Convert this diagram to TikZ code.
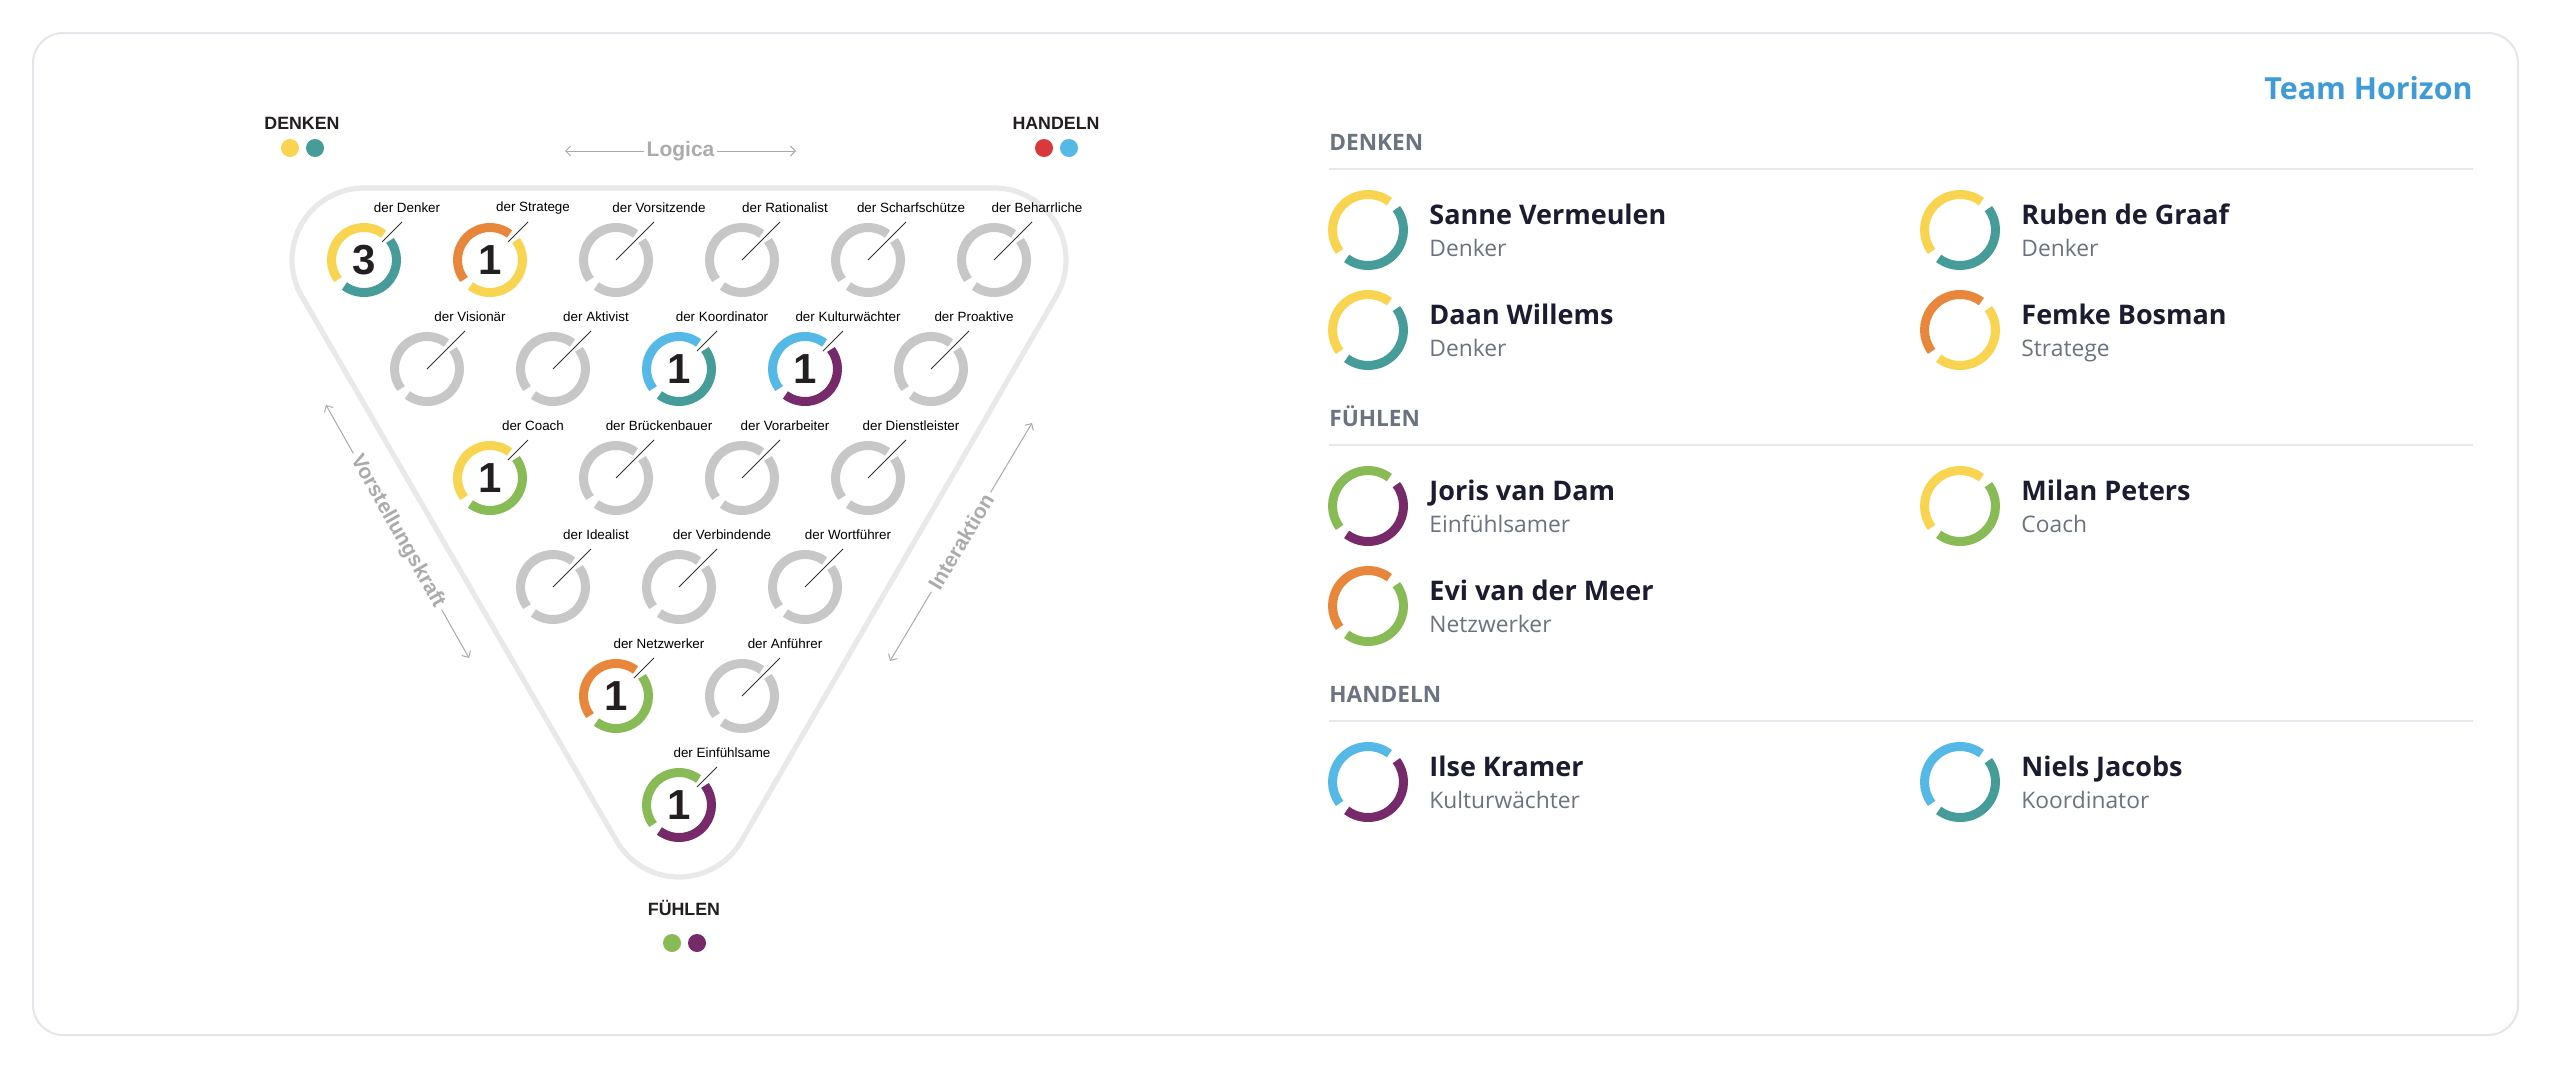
\documentclass[tikz,border=0pt]{standalone}
\usepackage{fontspec}
\setmainfont{Liberation Sans}
\newfontfamily\uifont{Open Sans}
\usetikzlibrary{calc,arrows.meta}

\definecolor{cyel}{HTML}{F8D451}
\definecolor{cteal}{HTML}{459C98}
\definecolor{corange}{HTML}{E8873C}
\definecolor{cblue}{HTML}{55B9E7}
\definecolor{cpurple}{HTML}{762A6A}
\definecolor{cgreen}{HTML}{88BB56}
\definecolor{cred}{HTML}{D9393A}
\definecolor{cring}{HTML}{C7C7C7}
\definecolor{ctri}{HTML}{E9E9E9}
\definecolor{caxis}{HTML}{AAAAAA}
\definecolor{caxislbl}{HTML}{ABABAB}
\definecolor{cframe}{HTML}{E3E7EB}
\definecolor{cnum}{HTML}{231F20}
\definecolor{cptr}{HTML}{333333}
\definecolor{cnavy}{HTML}{1C1C30}
\definecolor{cslate}{HTML}{6B7280}
\definecolor{csep}{HTML}{E5E8EC}
\definecolor{cteam}{HTML}{3F9BD7}

\tikzset{
  outerframe/.style={draw=cframe, line width=1pt, rounded corners=15pt},
  trioutline/.style={draw=ctri, line width=2.6pt},
  ringline/.style={line width=4.5pt},
  lbl/.style={font=\fontsize{6.7}{8}\selectfont, inner sep=0pt},
  num/.style={font=\fontsize{21}{21}\selectfont\bfseries, text=cnum, inner sep=0pt},
  ptr/.style={draw=cptr, line width=0.5pt},
  cornerlbl/.style={font=\fontsize{8.9}{10}\selectfont\bfseries, text=cnum, inner sep=0pt},
  dot/.style={circle, inner sep=0pt, minimum size=9pt},
  axisarrow/.style={draw=caxis, line width=0.5pt,
    {Straight Barb[length=2.5pt,width=5pt]}-{Straight Barb[length=2.5pt,width=5pt]}},
  axislbl/.style={font=\fontsize{10.5}{12}\selectfont\bfseries, text=caxislbl, fill=white, inner sep=2pt},
  sechead/.style={font=\uifont\fontsize{11.3}{13}\selectfont\bfseries, text=cslate, inner sep=0pt, anchor=base west},
  sepline/.style={draw=csep, line width=1pt},
  person/.style={font=\uifont\fontsize{13.5}{16}\selectfont\bfseries, text=cnavy, inner sep=0pt, anchor=base west},
  role/.style={font=\uifont\fontsize{11.4}{13}\selectfont, text=cslate, inner sep=0pt, anchor=base west}
}

% grey circle of the triangle: name, x, y, label
\newcommand{\emptyrole}[4]{%
  \coordinate (#1) at (#2,#3);
  \coordinate (#1-p) at ($(#1)+(38,-38)$);
  \node[lbl] (#1-l) at ($(#1)+(43,-52)$) {#4};
  \draw[ringline, cring] (#1) ++(307:32.5) arc[start angle=307, end angle=143, radius=32.5];
  \draw[ringline, cring] (#1) ++(127:32.5) arc[start angle=127, end angle=-37, radius=32.5];
  \draw[ptr] (#1-p) -- (#1);
}
% coloured circle with count: name, x, y, label, count, colour one, colour two
\newcommand{\fullrole}[7]{%
  \coordinate (#1) at (#2,#3);
  \coordinate (#1-p) at ($(#1)+(38,-38)$);
  \coordinate (#1-q) at ($(#1)+(18,-18)$);
  \node[lbl] (#1-l) at ($(#1)+(43,-52)$) {#4};
  \node[num] (#1-n) at (#1) {#5};
  \draw[ringline, #6] (#1) ++(307:32.5) arc[start angle=307, end angle=143, radius=32.5];
  \draw[ringline, #7] (#1) ++(127:32.5) arc[start angle=127, end angle=-37, radius=32.5];
  \draw[ptr] (#1-p) -- (#1-q);
}
% team member: name, x, y, person, role, colour one, colour two
\newcommand{\member}[7]{%
  \coordinate (#1) at (#2,#3);
  \draw[ringline, #6] (#1) ++(307:35.5) arc[start angle=307, end angle=143, radius=35.5];
  \draw[ringline, #7] (#1) ++(127:35.5) arc[start angle=127, end angle=-37, radius=35.5];
  \node[person] (#1-n) at ($(#1)+(61,-6)$) {#4};
  \node[role] (#1-r) at ($(#1)+(61,26)$) {#5};
}

\begin{document}
\begin{tikzpicture}[x=0.5pt, y=-0.5pt]
  \useasboundingbox (0,0) rectangle (2552,1066);
  \fill[white] (0,0) rectangle (2552,1066);
  \draw[outerframe] (33,33) rectangle (2518,1035);

  % triangle outline
  \draw[trioutline] (364,188) -- (994,188)
    arc[start angle=270, end angle=390, radius=72] -- (741.35,841)
    arc[start angle=30, end angle=150, radius=72] -- (301.65,296)
    arc[start angle=150, end angle=270, radius=72] -- cycle;

  % corners
  \node[cornerlbl] (denken) at (302,123) {DENKEN};
  \node[dot, fill=cyel] (denken-a) at (290,148) {};
  \node[dot, fill=cteal] (denken-b) at (315,148) {};
  \node[cornerlbl] (handeln) at (1056,123) {HANDELN};
  \node[dot, fill=cred] (handeln-a) at (1044,148) {};
  \node[dot, fill=cblue] (handeln-b) at (1069,148) {};
  \node[cornerlbl] (fuehlen) at (684,908) {FÜHLEN};
  \node[dot, fill=cgreen] (fuehlen-a) at (672,943) {};
  \node[dot, fill=cpurple] (fuehlen-b) at (697,943) {};

  % axes
  \coordinate (lg1) at (565,151);
  \coordinate (lg2) at (796,151);
  \draw[axisarrow] (lg1) -- (lg2) node[axislbl, midway, inner xsep=1.5pt] {Logica};
  \coordinate (vk1) at (326,405);
  \coordinate (vk2) at (469,658);
  \draw[axisarrow] (vk1) -- (vk2) node[axislbl, midway, sloped] {Vorstellungskraft};
  \coordinate (ia1) at (890,661);
  \coordinate (ia2) at (1032,423);
  \draw[axisarrow] (ia1) -- (ia2) node[axislbl, midway, sloped] {Interaktion};

  % row 1
  \fullrole{denker}{364}{260}{der Denker}{3}{cyel}{cteal}
  \fullrole{stratege}{490}{260}{der Stratege}{1}{corange}{cyel}
  \emptyrole{vorsitzende}{616}{260}{der Vorsitzende}
  \emptyrole{rationalist}{742}{260}{der Rationalist}
  \emptyrole{scharfschuetze}{868}{260}{der Scharfschütze}
  \emptyrole{beharrliche}{994}{260}{der Beharrliche}
  % row 2
  \emptyrole{visionaer}{427}{369}{der Visionär}
  \emptyrole{aktivist}{553}{369}{der Aktivist}
  \fullrole{koordinator}{679}{369}{der Koordinator}{1}{cblue}{cteal}
  \fullrole{kulturwaechter}{805}{369}{der Kulturwächter}{1}{cblue}{cpurple}
  \emptyrole{proaktive}{931}{369}{der Proaktive}
  % row 3
  \fullrole{coach}{490}{478}{der Coach}{1}{cyel}{cgreen}
  \emptyrole{brueckenbauer}{616}{478}{der Brückenbauer}
  \emptyrole{vorarbeiter}{742}{478}{der Vorarbeiter}
  \emptyrole{dienstleister}{868}{478}{der Dienstleister}
  % row 4
  \emptyrole{idealist}{553}{587}{der Idealist}
  \emptyrole{verbindende}{679}{587}{der Verbindende}
  \emptyrole{wortfuehrer}{805}{587}{der Wortführer}
  % row 5
  \fullrole{netzwerker}{616}{696}{der Netzwerker}{1}{corange}{cgreen}
  \emptyrole{anfuehrer}{742}{696}{der Anführer}
  % row 6
  \fullrole{einfuehlsame}{679}{805}{der Einfühlsame}{1}{cgreen}{cpurple}

  % team list
  \node[font=\uifont\fontsize{15.2}{18}\selectfont\bfseries, text=cteam, inner sep=0pt, anchor=base east] (team) at (2473,99) {Team Horizon};

  \node[sechead] (sec-denken) at (1329,150) {DENKEN};
  \draw[sepline] (1329,169) -- (2473,169);
  \member{sanne}{1368}{230}{Sanne Vermeulen}{Denker}{cyel}{cteal}
  \member{ruben}{1960}{230}{Ruben de Graaf}{Denker}{cyel}{cteal}
  \member{daan}{1368}{330}{Daan Willems}{Denker}{cyel}{cteal}
  \member{femke}{1960}{330}{Femke Bosman}{Stratege}{corange}{cyel}

  \node[sechead] (sec-fuehlen) at (1329,426) {FÜHLEN};
  \draw[sepline] (1329,445) -- (2473,445);
  \member{joris}{1368}{506}{Joris van Dam}{Einfühlsamer}{cgreen}{cpurple}
  \member{milan}{1960}{506}{Milan Peters}{Coach}{cyel}{cgreen}
  \member{evi}{1368}{606}{Evi van der Meer}{Netzwerker}{corange}{cgreen}

  \node[sechead] (sec-handeln) at (1329,702) {HANDELN};
  \draw[sepline] (1329,721) -- (2473,721);
  \member{ilse}{1368}{782}{Ilse Kramer}{Kulturwächter}{cblue}{cpurple}
  \member{niels}{1960}{782}{Niels Jacobs}{Koordinator}{cblue}{cteal}
\end{tikzpicture}
\end{document}
